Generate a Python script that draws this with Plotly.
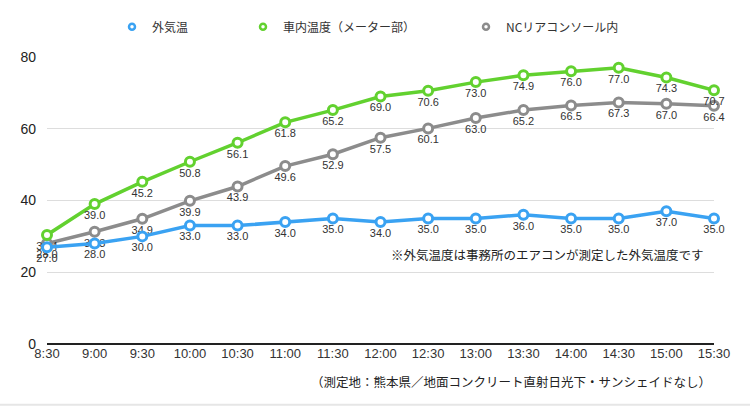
import plotly.graph_objects as go

times = ["8:30", "9:00", "9:30", "10:00", "10:30", "11:00", "11:30", "12:00",
         "12:30", "13:00", "13:30", "14:00", "14:30", "15:00", "15:30"]
outside = [27.0, 28.0, 30.0, 33.0, 33.0, 34.0, 35.0, 34.0, 35.0, 35.0, 36.0, 35.0, 35.0, 37.0, 35.0]
car_meter = [30.4, 39.0, 45.2, 50.8, 56.1, 61.8, 65.2, 69.0, 70.6, 73.0, 74.9, 76.0, 77.0, 74.3, 70.7]
nc_console = [28.0, 31.3, 34.9, 39.9, 43.9, 49.6, 52.9, 57.5, 60.1, 63.0, 65.2, 66.5, 67.3, 67.0, 66.4]

names = ["外気温", "車内温度（メーター部）", "NCリアコンソール内"]
colors = ["#3aa2f2", "#62d12f", "#8c8c8c"]
series = [outside, car_meter, nc_console]

xs = list(range(len(times)))
NUM_FONT = "Liberation Sans, Arial, sans-serif"
JP_FONT = "Noto Sans CJK JP, sans-serif"

fig = go.Figure()

# draw order: gray, green, blue
for idx in [2, 1, 0]:
    fig.add_trace(go.Scatter(
        x=xs, y=series[idx], mode="lines+markers+text",
        text=[f"{v:.1f}" for v in series[idx]],
        textposition="bottom center",
        textfont=dict(family=NUM_FONT, size=11, color="#333333"),
        line=dict(color=colors[idx], width=3.5),
        marker=dict(symbol="circle", size=9, color="white",
                    line=dict(color=colors[idx], width=3)),
        cliponaxis=False, showlegend=False, hoverinfo="skip",
    ))

# legend entries (one legend each, positioned like the reference)
legend_px = [132, 263, 486]
W0, PW = 47, 667
legend_ids = ["legend", "legend2", "legend3"]
for i in range(3):
    fig.add_trace(go.Scatter(
        x=[None], y=[None], mode="markers", name=names[i],
        marker=dict(symbol="circle", size=6, color="white",
                    line=dict(color=colors[i], width=2.5)),
        showlegend=True, legend=legend_ids[i],
    ))

layout_legends = {}
for i, lid in enumerate(legend_ids):
    layout_legends[lid] = dict(
        x=(legend_px[i] - 20 - W0) / PW, xanchor="left",
        y=(344 - 18) / 295, yanchor="middle",
        orientation="h", bgcolor="rgba(0,0,0,0)",
        font=dict(family=JP_FONT, size=12, color="#333333"),
        itemsizing="trace",
    )

fig.update_layout(
    width=750, height=409,
    margin=dict(l=47, r=36, t=49, b=65),
    paper_bgcolor="white", plot_bgcolor="white",
    **layout_legends,
    xaxis=dict(
        range=[0, len(times) - 1], tickmode="array", tickvals=xs, ticktext=times,
        showgrid=False, zeroline=False, showline=False, ticks="",
        tickfont=dict(family=NUM_FONT, size=13, color="#333333"),
    ),
    yaxis=dict(
        range=[0, 80], tickvals=[0, 20, 40, 60, 80],
        showgrid=True, gridcolor="#dddddd", gridwidth=1,
        zeroline=True, zerolinecolor="#222222", zerolinewidth=1.5,
        showline=False, ticks="", ticklabelstandoff=10,
        tickfont=dict(family=NUM_FONT, size=14, color="#222222"),
    ),
    annotations=[
        dict(text="※外気温度は事務所のエアコンが測定した外気温度です",
             xref="paper", yref="paper", x=(706 - W0) / PW, y=(344 - 252) / 295,
             xanchor="right", yanchor="middle", showarrow=False,
             font=dict(family=JP_FONT, size=12.5, color="#222222")),
        dict(text="（測定地：熊本県／地面コンクリート直射日光下・サンシェイドなし）",
             xref="paper", yref="paper", x=(713 - W0) / PW, y=(344 - 383) / 295,
             xanchor="right", yanchor="middle", showarrow=False,
             font=dict(family=JP_FONT, size=12.5, color="#222222")),
    ],
    shapes=[
        dict(type="line", xref="paper", yref="paper",
             x0=-W0 / PW, x1=(750 - W0) / PW, y0=(344 - 406.5) / 295, y1=(344 - 406.5) / 295,
             line=dict(color="#e6e6e6", width=2)),
    ],
)

fig.write_html("out.html")
